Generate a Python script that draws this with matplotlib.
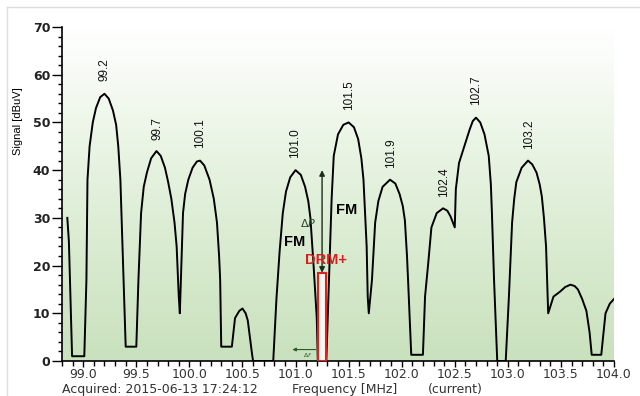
import numpy as np
import matplotlib
matplotlib.use("Agg")
import matplotlib.pyplot as plt
from matplotlib.colors import LinearSegmentedColormap
from matplotlib.patches import Rectangle
from matplotlib.lines import Line2D
from matplotlib.ticker import MultipleLocator, FormatStrFormatter

# spectrum trace (MHz, dBuV)
freq = [98.85, 98.865, 98.875, 98.895,
        99.01, 99.03, 99.04, 99.06, 99.09, 99.12, 99.16, 99.20, 99.24, 99.28, 99.31, 99.33, 99.35, 99.38, 99.40,
        99.50, 99.52, 99.545, 99.57, 99.60, 99.64, 99.69, 99.73, 99.77, 99.80, 99.83, 99.86, 99.88, 99.90, 99.91,
        99.92, 99.94, 99.96, 99.99, 100.03, 100.07, 100.10, 100.14, 100.19, 100.23, 100.26, 100.28, 100.29, 100.30,
        100.40, 100.43, 100.47, 100.50, 100.53, 100.55, 100.59, 100.60,
        100.79, 100.82, 100.85, 100.88, 100.91, 100.95, 101.00, 101.05, 101.09, 101.12, 101.14, 101.17, 101.20, 101.21,
        101.29, 101.34, 101.36, 101.40, 101.45, 101.50, 101.55, 101.59, 101.62, 101.64, 101.67, 101.68, 101.69,
        101.72, 101.75, 101.78, 101.82, 101.89, 101.94, 101.98, 102.01, 102.03, 102.05, 102.06, 102.09,
        102.20, 102.22, 102.25, 102.28, 102.33, 102.39, 102.43, 102.46, 102.50,
        102.51, 102.54, 102.59, 102.64, 102.67, 102.70, 102.74, 102.78, 102.82, 102.84, 102.85, 102.87, 102.90,
        102.98, 103.01, 103.04, 103.06, 103.08, 103.13, 103.19, 103.23, 103.27, 103.30, 103.32, 103.34, 103.36, 103.38,
        103.43, 103.49, 103.54, 103.59, 103.63, 103.66, 103.70, 103.74, 103.77, 103.79,
        103.88, 103.92, 103.96, 104.00]
signal = [30, 25, 17, 1,
          1, 17, 38, 45, 50, 53, 55.3, 56, 55, 52.5, 49.5, 45, 38, 17, 3,
          3, 17, 31, 36.5, 39.5, 42.5, 44, 43, 40.5, 37.5, 34, 29, 24, 13.5, 10,
          17, 31, 35, 38, 40.5, 41.8, 42, 41, 38, 34, 29, 22, 17, 3,
          3, 9, 10.5, 11, 10, 8.5, 1.5, 0,
          0, 13, 23, 31, 35.5, 38.5, 40, 39, 36.5, 33.5, 30, 20, 9, 0,
          0, 34, 43, 47.5, 49.5, 50, 49, 46.5, 42.5, 38, 24, 13.5, 10,
          17, 29, 33.5, 36.5, 38, 37.2, 35, 32.5, 29.5, 22, 17, 1.3,
          1.3, 13.5, 20.5, 28, 31, 32, 31.5, 30.3, 28,
          36, 41.5, 45, 48.5, 50.3, 51, 50, 47.5, 43, 37, 31, 17, 0,
          0, 13.5, 29, 34, 37.5, 40.5, 42, 41.2, 39.5, 37, 34.5, 30, 24, 10,
          13.5, 14.5, 15.5, 16, 15.7, 15, 13, 10.5, 6, 1.3,
          1.3, 10, 12, 13]

stations = [99.2, 99.7, 100.1, 101.0, 101.5, 101.9, 102.4, 102.7, 103.2]
station_labels = ["99.2", "99.7", "100.1", "101.0", "101.5", "101.9", "102.4", "102.7", "103.2"]

drm_freq = 101.25
drm_width = 0.08
drm_level = 18.5
fm_level = 40

fig = plt.figure(figsize=(6.4, 3.96), dpi=100)
ax = fig.add_axes([62 / 640, 35 / 396, 552 / 640, 334 / 396])

# green gradient background
bg = LinearSegmentedColormap.from_list("bg", ["#c9e1bd", "#d9ebd0", "#ebf5e6", "#ffffff"])
grad = np.linspace(0, 1, 256).reshape(-1, 1)
ax.imshow(grad, extent=[98.8, 104.0, 0, 70], origin="lower", aspect="auto",
          cmap=bg, zorder=0)

ax.plot(freq, signal, color="black", lw=1.4, zorder=3)

# station labels above each peak
for f, lab in zip(stations, station_labels):
    top = np.interp(f, freq, signal)
    ax.text(f, top + 2.6, lab, rotation=90, ha="center", va="bottom",
            fontsize=8.5, family="Liberation Sans", color="#111111")

# DRM+ block
ax.add_patch(Rectangle((drm_freq - drm_width / 2, 0), drm_width, drm_level,
                       facecolor="#f4f8f0", edgecolor="#e02020", lw=1.5, zorder=4))
ax.annotate("", xy=(drm_freq, fm_level), xytext=(drm_freq, drm_level),
            arrowprops=dict(arrowstyle="<|-|>", color="#1c2c1c", lw=1,
                            mutation_scale=8, shrinkA=0, shrinkB=0), zorder=5)
ax.text(101.12, 29.0, r"$\Delta P$", ha="center", va="center", fontsize=8, color="#2a4a2a")
ax.text(100.995, 24.9, "FM", ha="center", va="center", fontsize=10.5,
        fontweight="bold", family="Liberation Sans")
ax.text(101.485, 31.7, "FM", ha="center", va="center", fontsize=10.5,
        fontweight="bold", family="Liberation Sans")
ax.text(101.29, 21.2, "DRM+", ha="center", va="center", fontsize=10.5,
        fontweight="bold", family="Liberation Sans", color="#d42020", zorder=6)
ax.annotate("", xy=(100.97, 2.4), xytext=(101.19, 2.4),
            arrowprops=dict(arrowstyle="-|>", color="#2a5a2a", lw=0.8,
                            mutation_scale=5, shrinkA=0, shrinkB=0))
ax.text(101.11, 1.2, r"$\Delta f$", ha="center", va="center", fontsize=4.5, color="#2a5a2a")

ax.set_xlim(98.8, 104.0)
ax.set_ylim(0, 70)
ax.xaxis.set_major_locator(MultipleLocator(0.5))
ax.xaxis.set_minor_locator(MultipleLocator(0.1))
ax.xaxis.set_major_formatter(FormatStrFormatter("%.1f"))
ax.yaxis.set_major_locator(MultipleLocator(10))
ax.yaxis.set_minor_locator(MultipleLocator(2))

for s in ["top", "right"]:
    ax.spines[s].set_visible(False)
for s in ["left", "bottom"]:
    ax.spines[s].set_linewidth(1.2)

ax.tick_params(axis="x", which="major", length=4, width=1, pad=1.2,
               labelsize=9, labelcolor="#333333")
ax.tick_params(axis="x", which="minor", length=3.5, width=1)
ax.tick_params(axis="y", which="major", length=7, width=1, pad=1.5, labelsize=9)
ax.tick_params(axis="y", which="minor", length=3, width=1)
for t in ax.get_yticklabels():
    t.set_fontweight("bold")
    t.set_color("#222222")

fig.text(18 / 640, 1 - 121 / 396, "Signal [dBuV]", rotation=90, ha="center", va="center",
         fontsize=8, family="Liberation Sans")
fig.text(62 / 640, 1 - 389 / 396, "Acquired: 2015-06-13 17:24:12", ha="left", va="center",
         fontsize=9, color="#333333")
fig.text(292 / 640, 1 - 389 / 396, "Frequency [MHz]", ha="left", va="center",
         fontsize=9, color="#333333")
fig.text(428 / 640, 1 - 389 / 396, "(current)", ha="left", va="center",
         fontsize=9, color="#333333")

# light frame of the screenshot
fig.add_artist(Line2D([7 / 640, 1], [1 - 7 / 396, 1 - 7 / 396], color="#dddddd", lw=1))
fig.add_artist(Line2D([7 / 640, 7 / 640], [0, 1 - 7 / 396], color="#dddddd", lw=1))

fig.savefig("out.png", dpi=100)
